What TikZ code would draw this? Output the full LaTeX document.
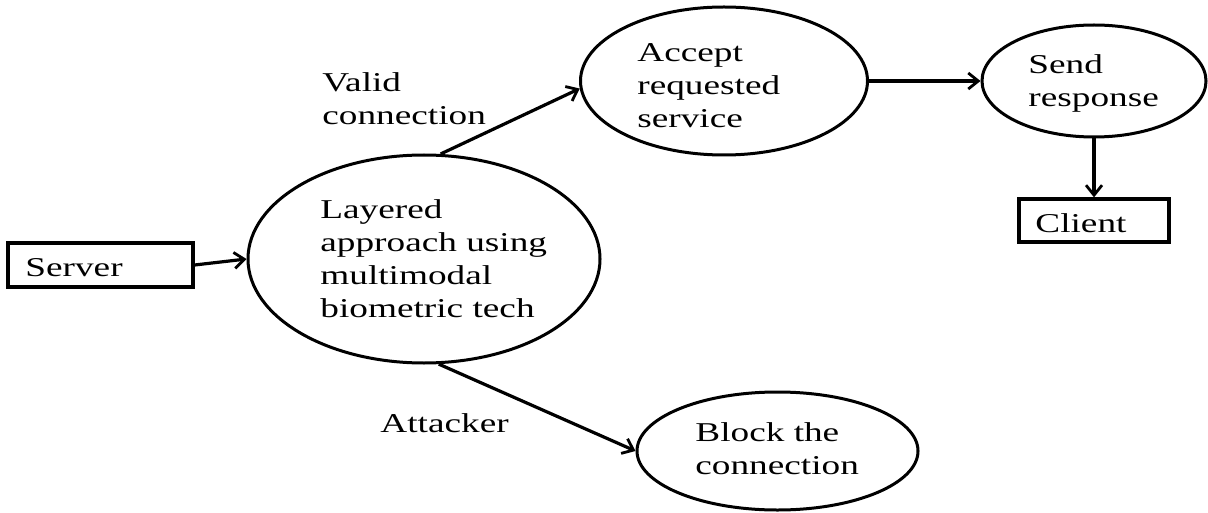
\documentclass[tikz,border=0pt]{standalone}
\usepackage{fontspec}
\setmainfont{Liberation Serif}[FakeStretch=1.37]
\usetikzlibrary{shapes.geometric,arrows.meta}

\tikzset{
  flow/.style={line width=1.6pt, -{Straight Barb[length=5pt,width=8pt,line width=1.4pt]}},
  oval/.style={ellipse, draw, line width=1.5pt, inner sep=0pt},
  boxnode/.style={rectangle, draw, line width=1.6pt, inner sep=0pt},
  % multi-line texts are placed by the baseline of their last line
  txt/.style={anchor=base west, inner sep=0pt, align=left,
              font=\fontsize{13.6pt}{16.5pt}\selectfont},
}

\begin{document}
\begin{tikzpicture}[x=0.5pt, y=-0.5pt]
  \useasboundingbox (0,0) rectangle (1208,513);

  % boxes and ovals
  \node[boxnode, minimum width=92.5pt, minimum height=22pt] (server) at (100.5,265) {};
  \node[oval, minimum width=176pt, minimum height=104pt] (main) at (424,259) {};
  \node[oval, minimum width=143.5pt, minimum height=74pt] (accept) at (724,81) {};
  \node[oval, minimum width=112pt, minimum height=56pt] (send) at (1094,81) {};
  \node[boxnode, minimum width=75pt, minimum height=21.5pt] (client) at (1094,220.5) {};
  \node[oval, minimum width=140.5pt, minimum height=59pt] (block) at (777.5,451) {};

  % texts
  \node[txt] (tserver) at (25,276) {Server};
  \node[txt] (tmain) at (320,317) {Layered\\approach using\\multimodal\\biometric tech};
  \node[txt] (taccept) at (637,128) {Accept\\requested\\service};
  \node[txt] (tsend) at (1028,107) {Send\\response};
  \node[txt] (tclient) at (1035,232) {Client};
  \node[txt] (tblock) at (695,474) {Block the\\connection};
  \node[txt] (tvalid) at (322,125) {Valid\\connection};
  \node[txt] (tattack) at (380,432) {Attacker};

  % connectors
  \draw[flow] (server.east) -- (main.west);
  \draw[flow] (main.81) -- (accept.183);
  \draw[flow] (accept.east) -- (send.west);
  \draw[flow] (send.south) -- (client.north);
  \draw[flow] (main.278) -- (block.west);
\end{tikzpicture}
\end{document}
